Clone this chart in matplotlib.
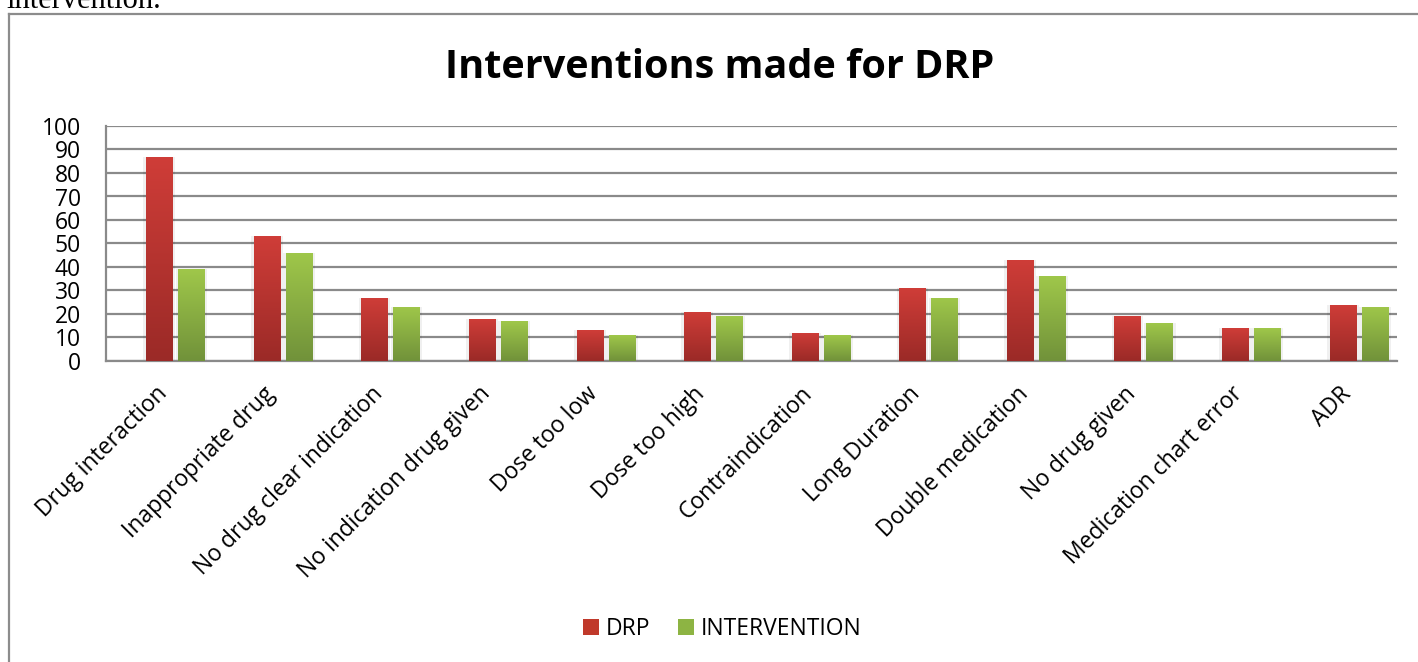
import numpy as np
import matplotlib.pyplot as plt
import matplotlib.transforms as mtransforms
from matplotlib.patches import Patch
from matplotlib.colors import LinearSegmentedColormap

categories = ['Drug interaction', 'Inappropriate drug', 'No drug clear indication',
              'No indication drug given', 'Dose too low', 'Dose too high',
              'Contraindication', 'Long Duration', 'Double medication',
              'No drug given', 'Medication chart error', 'ADR']
drp = [87, 53, 27, 18, 13, 21, 12, 31, 43, 19, 14, 24]
intervention = [39, 46, 23, 17, 11, 19, 11, 27, 36, 16, 14, 23]
yticks = list(range(0, 101, 10))

W, H = 1418, 662
fig = plt.figure(figsize=(W / 100, H / 100), dpi=100)
fnt = ['Open Sans', 'DejaVu Sans']

# chart frame (only left and top edges visible)
fig.add_artist(plt.Line2D([9 / W, 9 / W], [0, 1 - 14 / H], color='#8c8c8c', lw=1.6))
fig.add_artist(plt.Line2D([9 / W, 1], [1 - 14 / H, 1 - 14 / H], color='#8c8c8c', lw=1.6))
fig.text(6 / W, 1 - 8 / H, 'intervention.', family='Liberation Serif', fontsize=22,
         va='baseline', ha='left')

ax = fig.add_axes([106 / W, 1 - 361 / H, 1291 / W, 235 / H])
x = np.arange(len(categories))
bw = 0.245
off = 0.149

red_cmap = LinearSegmentedColormap.from_list('r', ['#9b2a27', '#cf3d38'])
grn_cmap = LinearSegmentedColormap.from_list('g', ['#71923a', '#9fc74a'])

def gradient_bars(xs, vals, cmap, color):
    # soft shadow
    ax.bar(xs, vals, bw + 0.05, color='#000000', alpha=0.06, zorder=2)
    bars = ax.bar(xs, vals, bw, color=color, zorder=3)
    grad = np.linspace(0, 1, 100).reshape(-1, 1)
    for b in bars:
        im = ax.imshow(grad, cmap=cmap, origin='lower', aspect='auto', zorder=4,
                       extent=[b.get_x(), b.get_x() + b.get_width(), 0, b.get_height()])
        im.set_clip_path(b)
    return bars

gradient_bars(x - off, drp, red_cmap, '#c0392b')
gradient_bars(x + off, intervention, grn_cmap, '#8db443')

ax.set_xlim(-0.645, len(categories) - 1 + 0.355)
ax.set_ylim(0, 100)
ax.set_yticks(yticks)
ax.set_yticklabels([str(v) for v in yticks], family=fnt, fontsize=16.5)
ax.yaxis.grid(True, color='#8a8a8a', lw=1.6, zorder=1)
ax.set_axisbelow(True)
ax.tick_params(axis='y', length=0, pad=18)
ax.tick_params(axis='x', length=0, pad=8)
ax.set_xticks(x)
ax.set_xticklabels(categories, rotation=45, ha='right', rotation_mode='anchor',
                   family=fnt, fontsize=16.5)
shift = mtransforms.ScaledTranslation(-20 / 100, -10 / 100, fig.dpi_scale_trans)
for lab in ax.get_xticklabels():
    lab.set_transform(lab.get_transform() + shift)
for s in ['top', 'right']:
    ax.spines[s].set_visible(False)
for s in ['left', 'bottom']:
    ax.spines[s].set_color('#8a8a8a')
    ax.spines[s].set_linewidth(1.6)

fig.text(720 / W, 1 - 67 / H, 'Interventions made for DRP', family=fnt,
         fontsize=28.5, fontweight='bold', ha='center', va='center')

handles = [Patch(facecolor='#c0392b', label='DRP'),
           Patch(facecolor='#8db443', label='INTERVENTION')]
fig.legend(handles=handles, loc='center', bbox_to_anchor=(722 / W, 1 - 629 / H),
           ncol=2, frameon=False, prop={'family': fnt, 'size': 16.5},
           handlelength=0.7, handleheight=0.7, handletextpad=0.3, columnspacing=1.2)

fig.savefig('out.png', dpi=100)
